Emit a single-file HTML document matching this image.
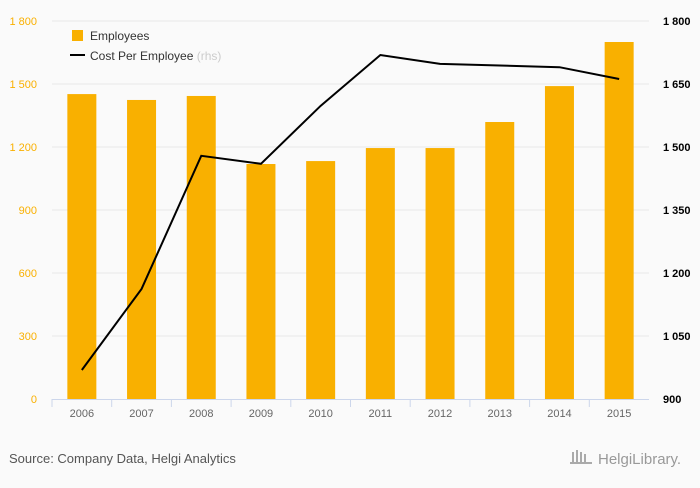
<!DOCTYPE html>
<html><head><meta charset="utf-8"><style>
body{margin:0;background:#fafafa;font-family:"Liberation Sans",sans-serif}
svg text{font-family:"Liberation Sans",sans-serif}
</style></head><body>
<svg width="700" height="483" id="c">
<rect width="700" height="483" fill="#fafafa"/>
<g id="grid"></g><g id="bars"></g><g id="axes"></g><g id="line"></g>
<g>
<rect x="72" y="30" width="11" height="11" fill="#f9b000"/>
<text x="90" y="40" font-size="12" fill="#333">Employees</text>
<line x1="70" y1="55" x2="85" y2="55" stroke="#000" stroke-width="2"/>
<text x="90" y="60" font-size="12" fill="#333">Cost Per Employee <tspan fill="#ccc">(rhs)</tspan></text>
</g>
<text x="9" y="463" font-size="13" fill="#555">Source: Company Data, Helgi Analytics</text>
<text x="598" y="464" font-size="15" fill="#999">HelgiLibrary.</text>
<g fill="#aaa"><rect x="572" y="452" width="2" height="10"/><rect x="576" y="450" width="2" height="12"/><rect x="580" y="452" width="2" height="10"/><rect x="584" y="454" width="2" height="8"/><rect x="570" y="462" width="22" height="2"/></g>
</svg>
<script>
const years=["2006","2007","2008","2009","2010","2011","2012","2013","2014","2015"];
const employees=[1452,1424,1443,1119,1133,1195,1195,1319,1490,1700];
const cost=[969,1162,1479,1460,1598,1719,1698,1694,1690,1662];
const leftTicks=[0,300,600,900,1200,1500,1800];
const rightTicks=[900,1050,1200,1350,1500,1650,1800];
const NS="http://www.w3.org/2000/svg";
const x0=52,x1=649,yB=399,yT=21,band=(x1-x0)/years.length;
const yL=v=>yB-(v/1800)*(yB-yT);
const yR=v=>yB-((v-900)/900)*(yB-yT);
const xc=i=>x0+band*(i+0.5);
function mk(t,a,p){const e=document.createElementNS(NS,t);for(const k in a)e.setAttribute(k,a[k]);document.getElementById(p).appendChild(e);return e;}
leftTicks.forEach((v,i)=>{
 if(v>0){const g=mk('line',{x1:x0,x2:x1,y1:yL(v),y2:yL(v),stroke:'#e8e8e8'},'grid');
 
 }
 const t=mk('text',{x:37,y:yL(v)+4,'text-anchor':'end','font-size':'11',fill:'#f9b000'},'axes');
 t.textContent=v.toLocaleString('en').replace(',',' ');
 
 
});
rightTicks.forEach(v=>{
 const t=mk('text',{x:663,y:yR(v)+4,'font-size':'11',fill:'#000','font-weight':'bold'},'axes');
 t.textContent=v.toLocaleString('en').replace(',',' ');
 
 
});
years.forEach((y,i)=>{
 const b=mk('rect',{x:xc(i)-14.5,y:yL(employees[i]),width:29,height:yB-yL(employees[i]),fill:'#f9b000'},'bars');
 
 
 const t=mk('text',{x:xc(i),y:417,'text-anchor':'middle','font-size':'11',fill:'#666'},'axes');
 t.textContent=y;
 
 
 const tk=mk('line',{x1:x0+band*i,x2:x0+band*i,y1:yB,y2:yB+8,stroke:'#ccd6eb'},'axes');
 
 
});
const ax=mk('line',{x1:x0,x2:x1,y1:yB+0.5,y2:yB+0.5,stroke:'#ccd6eb'},'axes');


const pl=mk('polyline',{points:cost.map((v,i)=>xc(i)+','+yR(v)).join(' '),fill:'none',stroke:'#000','stroke-width':'2'},'line');


</script>
</body></html>
